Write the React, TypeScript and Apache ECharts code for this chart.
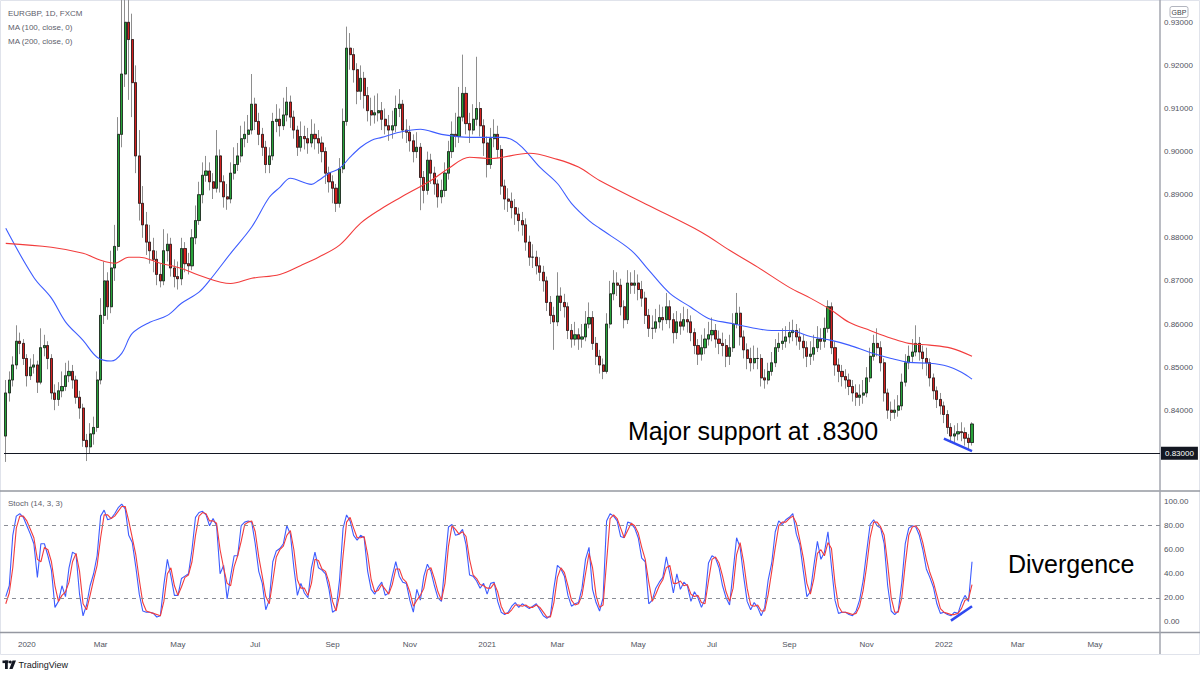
import React, { useEffect, useRef } from "react";
import * as echarts from "echarts";

// ---------- DATA (prices in pips: 8300 = 0.83000) ----------
// Each candle spans two trading days, starting Mon 16 Dec 2019.
const FIRST_OPEN = 8340;

const close2020a = [
  8440, 8470, 8505, 8560, 8555, 8520, 8480, 8500, 8505, 8465,
  8545, 8550, 8520, 8440, 8425, 8445, 8455, 8480, 8490, 8470,
  8430, 8405, 8330, 8315, 8345, 8360, 8470, 8620, 8700, 8640,
  8730, 8780, 9040, 9180, 9300, 9260, 9160, 8990, 8880, 8830,
  8790, 8770, 8750, 8715, 8700, 8770, 8785, 8730, 8710, 8705,
  8775, 8740, 8735, 8800, 8840, 8900, 8945, 8955, 8930, 8915,
  8990, 8930, 8895, 8890, 8950, 8970, 8990, 9030, 9040, 9050,
];
const close2020b = [
  9110, 9070, 9040, 9010, 8970, 8990, 9070, 9075, 9060, 9085,
  9115, 9080, 9050, 9010, 9035, 9030, 9020, 9040, 9030, 9020,
  9000, 8950, 8930, 8915, 8880, 8960, 9070, 9240, 9225, 9190,
  9140, 9170, 9130, 9095, 9085, 9090, 9095, 9075, 9060, 9050,
  9060, 9100, 9110, 9050, 9045, 9025, 9000, 9010, 8940, 8910,
  8980, 8950, 8925, 8895, 8910, 8950, 9000, 9040, 9035, 9080,
  9135, 9065, 9050, 9075, 9100, 9060, 9020, 8970, 9030, 9040,
];
const close2021a = [
  9005, 8920, 8890, 8885, 8870, 8855, 8840, 8830, 8790, 8755,
  8755, 8735, 8720, 8700, 8650, 8620, 8605, 8665, 8650, 8640,
  8585, 8565, 8575, 8565, 8570, 8600, 8615, 8555, 8525, 8505,
  8490, 8600, 8670, 8695, 8690, 8640, 8610, 8695, 8690, 8695,
  8680, 8660, 8620, 8590, 8590, 8605, 8615, 8610, 8640, 8610,
  8580, 8605, 8595, 8610, 8605, 8580, 8550, 8530, 8545, 8565,
  8575, 8585, 8565, 8555, 8550, 8525, 8545, 8600, 8625, 8570,
];
const close2021b = [
  8540, 8520, 8510, 8520, 8520, 8475, 8470, 8490, 8510, 8545,
  8555, 8560, 8570, 8580, 8585, 8570, 8560, 8545, 8525, 8530,
  8545, 8565, 8560, 8590, 8640, 8545, 8505, 8490, 8478, 8470,
  8455, 8440, 8430, 8435, 8440, 8475, 8525, 8555, 8545, 8510,
  8440, 8400, 8395, 8400, 8410, 8465, 8510, 8525, 8535, 8555,
  8535, 8520, 8510, 8475, 8445, 8425, 8410, 8390, 8360, 8340,
  8345, 8350, 8348, 8335, 8325, 8368,
];

const high2020a = [
  8470, 8490, 8525, 8597, 8580, 8565, 8530, 8520, 8530, 8515,
  8590, 8575, 8560, 8530, 8460, 8465, 8490, 8510, 8515, 8505,
  8480, 8445, 8415, 8345, 8370, 8385, 8490, 8660, 8745, 8720,
  8770, 8830, 9080, 9380, 9480, 9450, 9320, 9200, 9050, 8920,
  8860, 8830, 8800, 8770, 8740, 8820, 8810, 8800, 8750, 8745,
  8800, 8790, 8765, 8820, 8875, 8930, 8975, 8990, 8975, 8950,
  9050, 9005, 8945, 8925, 8975, 9010, 9020, 9060, 9070, 9085,
];
const high2020b = [
  9180, 9125, 9090, 9055, 9025, 9010, 9090, 9110, 9100, 9125,
  9150, 9130, 9095, 9060, 9070, 9060, 9055, 9075, 9065, 9050,
  9035, 9010, 8965, 8945, 8925, 8985, 9100, 9290, 9275, 9240,
  9205, 9200, 9185, 9150, 9125, 9130, 9135, 9115, 9100, 9085,
  9095, 9130, 9145, 9120, 9075, 9060, 9040, 9045, 9020, 8955,
  9000, 8995, 8965, 8935, 8935, 8975, 9025, 9070, 9090, 9150,
  9225, 9150, 9090, 9110, 9220, 9115, 9075, 9035, 9055, 9075,
];
const high2021a = [
  9060, 9015, 8935, 8915, 8905, 8890, 8870, 8860, 8845, 8805,
  8785, 8770, 8755, 8735, 8710, 8665, 8640, 8720, 8685, 8670,
  8650, 8600, 8605, 8590, 8600, 8630, 8650, 8630, 8570, 8540,
  8520, 8625, 8700, 8725, 8720, 8705, 8655, 8725, 8720, 8725,
  8715, 8700, 8675, 8635, 8620, 8635, 8645, 8640, 8672, 8655,
  8625, 8630, 8625, 8640, 8635, 8620, 8590, 8565, 8575, 8590,
  8605, 8615, 8600, 8585, 8580, 8565, 8575, 8625, 8672, 8640,
];
const high2021b = [
  8585, 8555, 8545, 8550, 8545, 8530, 8495, 8510, 8535, 8565,
  8580, 8590, 8595, 8605, 8610, 8600, 8590, 8575, 8560, 8560,
  8575, 8595, 8590, 8615, 8655, 8650, 8560, 8520, 8505, 8495,
  8485, 8470, 8460, 8460, 8470, 8500, 8545, 8575, 8590, 8560,
  8520, 8450, 8420, 8425, 8435, 8485, 8530, 8550, 8565, 8597,
  8570, 8550, 8545, 8520, 8485, 8455, 8440, 8420, 8400, 8370,
  8365, 8370, 8372, 8360, 8345, 8372,
];

const low2020a = [
  8280, 8420, 8455, 8495, 8530, 8505, 8455, 8470, 8485, 8440,
  8460, 8525, 8495, 8425, 8400, 8410, 8430, 8445, 8465, 8450,
  8415, 8380, 8315, 8282, 8300, 8320, 8350, 8460, 8600, 8610,
  8625, 8700, 8770, 9010, 9150, 9120, 9080, 8950, 8840, 8800,
  8760, 8740, 8720, 8690, 8685, 8690, 8745, 8710, 8685, 8680,
  8690, 8720, 8715, 8725, 8785, 8830, 8880, 8930, 8910, 8890,
  8905, 8905, 8870, 8865, 8880, 8935, 8955, 8975, 9010, 9020,
];
const low2020b = [
  9040, 9050, 9015, 8990, 8950, 8950, 8980, 9045, 9035, 9050,
  9070, 9055, 9030, 8990, 9000, 9005, 8995, 9010, 9005, 8995,
  8975, 8925, 8905, 8880, 8860, 8870, 8950, 9060, 9190, 9160,
  9110, 9120, 9100, 9070, 9060, 9065, 9070, 9050, 9040, 9025,
  9030, 9045, 9080, 9030, 9020, 9000, 8975, 8985, 8864, 8880,
  8900, 8925, 8900, 8870, 8880, 8895, 8935, 8985, 9010, 9020,
  9070, 9040, 9020, 9040, 9060, 9035, 8990, 8940, 8960, 9010,
];
const low2021a = [
  8985, 8900, 8865, 8860, 8845, 8830, 8815, 8805, 8770, 8735,
  8730, 8715, 8700, 8675, 8630, 8600, 8540, 8595, 8630, 8615,
  8565, 8545, 8550, 8540, 8545, 8560, 8590, 8540, 8505, 8485,
  8472, 8485, 8590, 8655, 8665, 8620, 8590, 8600, 8670, 8670,
  8655, 8640, 8600, 8570, 8565, 8580, 8590, 8585, 8600, 8590,
  8555, 8565, 8575, 8585, 8580, 8560, 8530, 8505, 8515, 8530,
  8550, 8560, 8545, 8530, 8525, 8500, 8505, 8535, 8590, 8550,
];
const low2021b = [
  8520, 8495, 8490, 8495, 8495, 8455, 8450, 8460, 8480, 8500,
  8535, 8540, 8545, 8555, 8560, 8550, 8540, 8520, 8500, 8505,
  8515, 8535, 8540, 8545, 8580, 8530, 8480, 8465, 8455, 8450,
  8435, 8420, 8410, 8410, 8415, 8430, 8465, 8515, 8525, 8490,
  8420, 8380, 8375, 8380, 8385, 8400, 8455, 8495, 8510, 8525,
  8515, 8495, 8480, 8455, 8425, 8405, 8390, 8370, 8345, 8325,
  8325, 8330, 8328, 8318, 8310, 8318,
];

// Moving averages: [candle index, value in pips]
const ma100Points = [
  [0, 8822], [8, 8708], [13, 8660], [17, 8605], [22, 8562], [26, 8523], [30, 8514],
  [33, 8532], [36, 8578], [41, 8604], [46, 8620], [50, 8648], [55, 8674], [58, 8701],
  [64, 8764], [70, 8825], [75, 8894], [78, 8917], [81, 8938], [87, 8924], [89, 8933],
  [92, 8950], [95, 8961], [98, 8987], [101, 9010], [104, 9026], [107, 9033], [112, 9045],
  [118, 9052], [124, 9040], [132, 9033], [141, 9033], [144, 9028], [147, 9010], [152, 8964],
  [157, 8926], [161, 8880], [166, 8840], [169, 8822], [178, 8771], [183, 8725], [189, 8671],
  [195, 8639], [200, 8613], [206, 8602], [212, 8592], [218, 8585], [223, 8585], [229, 8571],
  [235, 8562], [240, 8551], [246, 8534], [252, 8520], [257, 8511], [263, 8509], [268, 8502],
  [272, 8488], [275, 8472],
];
const ma200Points = [
  [0, 8787], [13, 8778], [22, 8764], [27, 8748], [31, 8741], [35, 8755], [38, 8755],
  [44, 8741], [50, 8729], [55, 8713], [64, 8694], [70, 8706], [78, 8715], [84, 8736],
  [89, 8755], [95, 8783], [101, 8834], [107, 8868], [112, 8892], [121, 8933], [126, 8961],
  [132, 8987], [138, 8984], [149, 8996], [157, 8982], [163, 8964], [169, 8933], [183, 8875],
  [198, 8813], [206, 8771], [214, 8732], [223, 8685], [229, 8660], [235, 8632], [240, 8604],
  [246, 8585], [252, 8567], [257, 8555], [263, 8551], [269, 8544], [275, 8525],
];

// Stochastic (14, 3, 3)
const stochK = [
  21, 30, 72, 88, 90, 87, 80, 73, 65, 37, 65, 65, 55, 43, 12, 17, 30, 21, 45, 58,
  56, 23, 5, 14, 30, 40, 55, 88, 93, 85, 86, 90, 95, 98, 94, 72, 66, 46, 23, 9,
  8, 8, 7, 4, 5, 31, 52, 38, 22, 22, 36, 38, 40, 60, 87, 91, 92, 89, 80, 86,
  80, 40, 47, 19, 38, 55, 55, 80, 83, 84, 83, 65, 42, 32, 10, 18, 50, 59, 61, 65,
  80, 73, 45, 22, 32, 24, 20, 45, 58, 45, 43, 40, 27, 8, 10, 35, 78, 89, 84, 72,
  68, 72, 70, 42, 27, 23, 29, 33, 22, 24, 38, 50, 38, 33, 32, 18, 8, 27, 18, 38,
  48, 42, 30, 20, 17, 48, 79, 81, 72, 73, 77, 64, 39, 38, 34, 28, 32, 23, 32, 33,
  17, 8, 6, 8, 13, 16, 12, 15, 13, 11, 13, 15, 10, 5, 3, 5, 28, 47, 44, 38,
  22, 13, 15, 16, 28, 52, 62, 27, 16, 9, 20, 84, 90, 88, 84, 71, 70, 83, 82, 78,
  70, 53, 50, 15, 18, 28, 33, 37, 54, 40, 24, 40, 27, 33, 30, 17, 25, 20, 12, 19,
  49, 55, 53, 45, 30, 20, 14, 42, 70, 62, 38, 17, 10, 16, 12, 5, 12, 35, 49, 75,
  84, 81, 85, 87, 90, 73, 64, 42, 21, 25, 47, 67, 52, 58, 75, 46, 18, 7, 8, 8,
  6, 5, 9, 18, 34, 58, 81, 85, 80, 78, 65, 30, 9, 6, 9, 32, 65, 78, 80, 79,
  72, 60, 44, 37, 29, 15, 7, 8, 6, 5, 8, 7, 16, 22, 17, 50,
];
const stochD = [
  15, 24, 45, 78, 88, 88, 84, 77, 70, 52, 50, 62, 60, 50, 30, 17, 22, 25, 33, 50,
  57, 42, 15, 10, 22, 35, 47, 70, 89, 89, 86, 88, 92, 96, 96, 84, 70, 56, 35, 16,
  9, 8, 7, 6, 5, 17, 40, 45, 30, 22, 29, 37, 39, 50, 72, 88, 91, 90, 84, 84,
  82, 60, 45, 32, 30, 46, 55, 67, 81, 83, 84, 75, 54, 38, 21, 15, 34, 54, 60, 63,
  72, 76, 60, 35, 28, 28, 22, 32, 52, 51, 44, 42, 33, 17, 9, 22, 55, 83, 87, 78,
  70, 70, 71, 56, 35, 25, 26, 31, 27, 23, 31, 44, 44, 36, 33, 25, 13, 18, 22, 28,
  43, 45, 36, 25, 18, 32, 63, 80, 77, 73, 75, 71, 52, 39, 36, 31, 30, 28, 28, 32,
  25, 13, 7, 7, 10, 14, 14, 13, 14, 12, 12, 14, 12, 8, 4, 4, 16, 37, 45, 41,
  30, 18, 14, 15, 22, 40, 57, 45, 22, 12, 14, 50, 86, 89, 86, 78, 70, 76, 82, 80,
  74, 62, 52, 33, 17, 23, 30, 35, 45, 47, 32, 32, 34, 30, 31, 23, 21, 22, 16, 15,
  34, 52, 54, 49, 38, 25, 17, 28, 56, 66, 50, 28, 14, 13, 14, 9, 9, 23, 42, 62,
  80, 83, 83, 86, 88, 82, 68, 53, 32, 23, 36, 57, 60, 55, 66, 61, 32, 13, 8, 8,
  7, 6, 7, 13, 26, 46, 70, 83, 83, 79, 72, 48, 20, 8, 8, 20, 48, 72, 79, 80,
  76, 66, 52, 41, 33, 22, 11, 8, 7, 6, 6, 7, 11, 18, 19, 31,
];

// Drawn annotation lines (candle index, value)
const priceDivergence = [[267, 8334], [275, 8305]];
const stochDivergence = [[269, 1], [275, 13]];
const SUPPORT = 8300;

// Axis ticks
const monthTicks = ["2020", "Mar", "May", "Jul", "Sep", "Nov", "2021", "Mar", "May", "Jul", "Sep", "Nov", "2022", "Mar", "May"];
const priceTicks = { min: 8300, max: 9300, step: 100 };
const CATEGORY_COUNT = 329;

const UP = "#27a33a";
const DOWN = "#d3211f";
const BLUE = "#3d5cff";
const RED = "#f23c3c";
const FONT = "'Liberation Sans', Arial, sans-serif";

function buildCategories() {
  const days: Date[] = [];
  let t = Date.UTC(2019, 11, 16);
  while (days.length < CATEGORY_COUNT * 2) {
    const d = new Date(t);
    const w = d.getUTCDay();
    if (w !== 0 && w !== 6) days.push(d);
    t += 86400000;
  }
  const cats: string[] = [];
  const labelAt = new Map<number, string>();
  let tick = 0;
  for (let k = 0; k < CATEGORY_COUNT; k++) {
    cats.push(days[2 * k].toISOString().slice(0, 10));
    for (const i of [2 * k, 2 * k + 1]) {
      if (
        i > 0 &&
        days[i].getUTCMonth() !== days[i - 1].getUTCMonth() &&
        days[i].getUTCMonth() % 2 === 0 &&
        tick < monthTicks.length
      ) {
        labelAt.set(k, monthTicks[tick++]);
      }
    }
  }
  return { cats, labelAt };
}

export default function App() {
  const ref = useRef<HTMLDivElement>(null);

  useEffect(() => {
    if (!ref.current) return;
    const chart = echarts.init(ref.current, null, { renderer: "svg" });
    const { cats, labelAt } = buildCategories();

    const closes = [...close2020a, ...close2020b, ...close2021a, ...close2021b];
    const highs = [...high2020a, ...high2020b, ...high2021a, ...high2021b];
    const lows = [...low2020a, ...low2020b, ...low2021a, ...low2021b];
    const opens = closes.map((_, i) => (i === 0 ? FIRST_OPEN : closes[i - 1]));

    const wickData = closes.map((c, i) => [opens[i], c, lows[i], highs[i]]);
    const bodyData = closes.map((c, i) => [opens[i], c, Math.min(opens[i], c), Math.max(opens[i], c)]);

    const fmtPrice = (v: number) => (v / 10000).toFixed(5);

    const option: any = {
      animation: false,
      backgroundColor: "#ffffff",
      grid: [
        { left: 4, right: 40, top: 22.3, bottom: 221.7 },
        { left: 4, right: 40, top: 501.7, bottom: 53.2 },
      ],
      xAxis: [
        {
          type: "category",
          gridIndex: 0,
          data: cats,
          boundaryGap: true,
          show: false,
        },
        {
          type: "category",
          gridIndex: 1,
          data: cats,
          boundaryGap: true,
          axisLine: { show: false },
          axisTick: { show: false },
          splitLine: { show: false },
          axisLabel: {
            interval: (index: number) => labelAt.has(index),
            formatter: (_v: string, index: number) => labelAt.get(index) ?? "",
            fontSize: 8,
            color: "#50535e",
            fontFamily: FONT,
            margin: 19,
          },
        },
      ],
      yAxis: [
        {
          type: "value",
          gridIndex: 0,
          position: "right",
          min: priceTicks.min,
          max: priceTicks.max,
          interval: priceTicks.step,
          axisLine: { show: false },
          axisTick: { show: false },
          splitLine: { show: false },
          axisLabel: {
            formatter: (v: number) => (v === SUPPORT ? "" : fmtPrice(v)),
            fontSize: 8,
            color: "#50535e",
            fontFamily: FONT,
            margin: 4,
          },
        },
        {
          type: "value",
          gridIndex: 1,
          position: "right",
          min: 0,
          max: 100,
          interval: 20,
          axisLine: { show: false },
          axisTick: { show: false },
          splitLine: { show: false },
          axisLabel: {
            formatter: (v: number) => v.toFixed(2),
            fontSize: 8,
            color: "#50535e",
            fontFamily: FONT,
            margin: 4,
          },
        },
      ],
      series: [
        {
          type: "candlestick",
          name: "wicks",
          xAxisIndex: 0,
          yAxisIndex: 0,
          data: wickData,
          barWidth: 2.6,
          clip: false,
          itemStyle: {
            color: UP,
            color0: DOWN,
            borderColor: "#8e8e8e",
            borderColor0: "#8e8e8e",
            borderWidth: 1,
          },
          markLine: {
            silent: true,
            symbol: ["none", "none"],
            animation: false,
            lineStyle: { color: "#131722", width: 1.2, type: "solid" },
            label: {
              show: true,
              position: "end",
              distance: 1,
              formatter: fmtPrice(SUPPORT),
              backgroundColor: "#131722",
              color: "#ffffff",
              fontSize: 8,
              fontFamily: FONT,
              padding: [3, 4, 2, 4],
            },
            data: [{ yAxis: SUPPORT }],
          },
        },
        {
          type: "candlestick",
          name: "bodies",
          xAxisIndex: 0,
          yAxisIndex: 0,
          data: bodyData,
          barWidth: 2.6,
          clip: false,
          itemStyle: {
            color: UP,
            color0: DOWN,
            borderColor: "#111111",
            borderColor0: "#111111",
            borderWidth: 0.7,
          },
          markLine: {
            silent: true,
            symbol: ["none", "none"],
            animation: false,
            label: { show: false },
            lineStyle: { color: "#2f49f0", width: 2.5, type: "solid" },
            data: [
              [
                { coord: [cats[priceDivergence[0][0]], priceDivergence[0][1]] },
                { coord: [cats[priceDivergence[1][0]], priceDivergence[1][1]] },
              ],
            ],
          },
        },
        {
          type: "line",
          name: "MA100",
          xAxisIndex: 0,
          yAxisIndex: 0,
          data: ma100Points,
          smooth: 0.35,
          symbol: "none",
          lineStyle: { color: BLUE, width: 1.1 },
          z: 3,
        },
        {
          type: "line",
          name: "MA200",
          xAxisIndex: 0,
          yAxisIndex: 0,
          data: ma200Points,
          smooth: 0.35,
          symbol: "none",
          lineStyle: { color: RED, width: 1.1 },
          z: 3,
        },
        {
          type: "line",
          name: "%K",
          xAxisIndex: 1,
          yAxisIndex: 1,
          data: stochK,
          symbol: "none",
          lineStyle: { color: BLUE, width: 1.1 },
          markLine: {
            silent: true,
            symbol: ["none", "none"],
            animation: false,
            label: { show: false },
            lineStyle: { color: "#8a8d96", width: 1, type: [4, 4] },
            data: [{ yAxis: 80 }, { yAxis: 20 }],
          },
        },
        {
          type: "line",
          name: "%D",
          xAxisIndex: 1,
          yAxisIndex: 1,
          data: stochD,
          symbol: "none",
          lineStyle: { color: RED, width: 1.1 },
          markLine: {
            silent: true,
            symbol: ["none", "none"],
            animation: false,
            label: { show: false },
            lineStyle: { color: "#2f49f0", width: 2.5, type: "solid" },
            data: [
              [
                { coord: [cats[stochDivergence[0][0]], stochDivergence[0][1]] },
                { coord: [cats[stochDivergence[1][0]], stochDivergence[1][1]] },
              ],
            ],
          },
        },
      ],
      graphic: [
        {
          type: "rect",
          silent: true,
          z: -10,
          shape: { x: 0.5, y: 0.5, width: 1199, height: 654 },
          style: { fill: "none", stroke: "#e0e3eb", lineWidth: 1 },
        },
        { type: "line", silent: true, shape: { x1: 0, y1: 491, x2: 1200, y2: 491 }, style: { stroke: "#9598a1", lineWidth: 1.3 } },
        { type: "line", silent: true, shape: { x1: 0, y1: 632.5, x2: 1200, y2: 632.5 }, style: { stroke: "#9598a1", lineWidth: 1.3 } },
        { type: "line", silent: true, shape: { x1: 1160, y1: 0, x2: 1160, y2: 654 }, style: { stroke: "#a3a6af", lineWidth: 1.5 } },
        { type: "text", silent: true, style: { text: "EURGBP, 1D, FXCM", x: 8, y: 13.5, fill: "#5d606b", fontSize: 8, fontFamily: FONT, verticalAlign: "middle" } },
        { type: "text", silent: true, style: { text: "MA (100, close, 0)", x: 8, y: 27, fill: "#5d606b", fontSize: 8, fontFamily: FONT, verticalAlign: "middle" } },
        { type: "text", silent: true, style: { text: "MA (200, close, 0)", x: 8, y: 41, fill: "#5d606b", fontSize: 8, fontFamily: FONT, verticalAlign: "middle" } },
        { type: "text", silent: true, style: { text: "Stoch (14, 3, 3)", x: 8, y: 503.5, fill: "#5d606b", fontSize: 8, fontFamily: FONT, verticalAlign: "middle" } },
        {
          type: "rect",
          silent: true,
          z: 10,
          shape: { x: 1170, y: 6.5, width: 18, height: 11, r: 2 },
          style: { fill: "#ffffff", stroke: "#b2b5be", lineWidth: 1 },
        },
        { type: "text", silent: true, z: 11, style: { text: "GBP", x: 1179, y: 12.2, fill: "#3c3f48", fontSize: 7, fontFamily: FONT, align: "center", verticalAlign: "middle" } },
        { type: "text", silent: true, style: { text: "Major support at .8300", x: 628, y: 431, fill: "#000000", fontSize: 25, fontFamily: FONT, verticalAlign: "middle" } },
        { type: "text", silent: true, style: { text: "Divergence", x: 1008, y: 564, fill: "#000000", fontSize: 25, fontFamily: FONT, verticalAlign: "middle" } },
        // TradingView logo
        { type: "rect", silent: true, shape: { x: 2.5, y: 660.5, width: 6, height: 2.6 }, style: { fill: "#131722" } },
        { type: "rect", silent: true, shape: { x: 5, y: 660.5, width: 2.8, height: 8.5 }, style: { fill: "#131722" } },
        { type: "circle", silent: true, shape: { cx: 10.3, cy: 662, r: 1.5 }, style: { fill: "#131722" } },
        { type: "polygon", silent: true, shape: { points: [[12.5, 660.5], [16, 660.5], [12.6, 669], [9.3, 669]] }, style: { fill: "#131722" } },
        { type: "text", silent: true, style: { text: "TradingView", x: 18.5, y: 665, fill: "#131722", fontSize: 9, fontFamily: FONT, verticalAlign: "middle" } },
      ],
    };

    chart.setOption(option);
    return () => chart.dispose();
  }, []);

  return (
    <div
      ref={ref}
      style={{ position: "fixed", left: 0, top: 0, width: 1200, height: 675, background: "#ffffff" }}
    />
  );
}
